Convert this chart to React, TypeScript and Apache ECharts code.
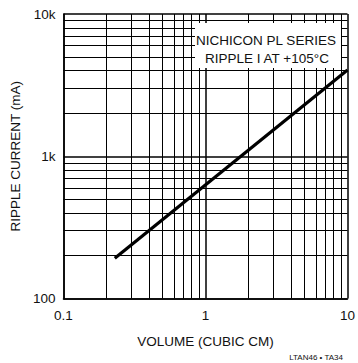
import React, { useEffect, useRef } from "react";
import * as echarts from "echarts";

const FONT = "'Liberation Sans', Arial, Helvetica, sans-serif";

// Data (volume cm^3 -> ripple current mA)
const volume = [0.23, 10];
const rippleCurrent = [192, 4040];

// Axis ranges and labels
const xRange = [0.1, 10];
const yRange = [100, 10000];
const xTickLabels: Record<string, string> = { "0.1": "0.1", "1": "1", "10": "10" };
const yTickLabels: Record<string, string> = { "100": "100", "1000": "1k", "10000": "10k" };

// Minor log grid multipliers per decade
const minorMultipliers = [2, 3, 4, 5, 6, 7, 8, 9];
const xDecades = [0.1, 1];
const yDecades = [100, 1000];

const annotationLines = ["NICHICON PL SERIES", "RIPPLE I AT +105°C"];
const figureTag = "LTAN46 • TA34";

export default function App() {
  const ref = useRef<HTMLDivElement>(null);
  useEffect(() => {
    if (!ref.current) return;
    const chart = echarts.init(ref.current, null, { renderer: "svg" });
    const xMinor = xDecades.flatMap((d) => minorMultipliers.map((m) => ({ xAxis: +(d * m).toPrecision(6) })));
    const yMinor = yDecades.flatMap((d) => minorMultipliers.map((m) => ({ yAxis: +(d * m).toPrecision(6) })));
    chart.setOption({
      animation: false,
      backgroundColor: "#fff",
      grid: { left: 61, right: 8.5, top: 14, bottom: 64.5 },
      xAxis: {
        type: "log",
        logBase: 10,
        min: xRange[0],
        max: xRange[1],
        name: "VOLUME (CUBIC CM)",
        nameLocation: "middle",
        nameGap: 36,
        nameTextStyle: { fontFamily: FONT, fontSize: 13.5, color: "#111" },
        axisLine: { show: true, lineStyle: { color: "#000", width: 1.5 } },
        axisTick: { show: false },
        axisLabel: {
          fontFamily: FONT,
          fontSize: 13.5,
          color: "#111",
          margin: 10,
          formatter: (v: number) => xTickLabels[String(v)] ?? "",
        },
        splitLine: { show: true, lineStyle: { color: "#000", width: 1.5 } },
      },
      yAxis: {
        type: "log",
        logBase: 10,
        min: yRange[0],
        max: yRange[1],
        name: "RIPPLE CURRENT (mA)",
        nameLocation: "middle",
        nameGap: 40,
        nameRotate: 90,
        nameTextStyle: { fontFamily: FONT, fontSize: 13.5, color: "#111" },
        axisLine: { show: true, lineStyle: { color: "#000", width: 1.5 } },
        axisTick: { show: false },
        axisLabel: {
          fontFamily: FONT,
          fontSize: 13.5,
          color: "#111",
          margin: 8,
          formatter: (v: number) => yTickLabels[String(v)] ?? "",
        },
        splitLine: { show: true, lineStyle: { color: "#000", width: 1.5 } },
      },
      series: [
        {
          type: "line",
          data: [],
          silent: true,
          markLine: {
            silent: true,
            symbol: "none",
            label: { show: false },
            lineStyle: { color: "#000", width: 1, type: "solid" },
            data: [...xMinor, ...yMinor],
          },
        },
        {
          type: "line",
          data: volume.map((v, i) => [v, rippleCurrent[i]]),
          showSymbol: false,
          symbol: "none",
          lineStyle: { color: "#000", width: 3.2 },
          z: 5,
        },
      ],
      graphic: [
        {
          type: "rect",
          shape: { x: 195, y: 23, width: 146, height: 45 },
          style: { fill: "#fff" },
          z: 100,
        },
        {
          type: "text",
          x: 266,
          y: 40,
          style: {
            text: annotationLines[0],
            fontFamily: FONT,
            fontSize: 13.5,
            fill: "#111",
            align: "center",
            verticalAlign: "middle",
          },
          z: 101,
        },
        {
          type: "text",
          x: 267,
          y: 58,
          style: {
            text: annotationLines[1],
            fontFamily: FONT,
            fontSize: 13.5,
            fill: "#111",
            align: "center",
            verticalAlign: "middle",
          },
          z: 101,
        },
        {
          type: "text",
          x: 343,
          y: 357,
          style: {
            text: figureTag,
            fontFamily: FONT,
            fontSize: 8,
            fill: "#111",
            align: "right",
            verticalAlign: "middle",
          },
          z: 101,
        },
      ],
    });
    return () => chart.dispose();
  }, []);
  return <div ref={ref} style={{ width: 358, height: 363, position: "absolute", left: 0, top: 0 }} />;
}
